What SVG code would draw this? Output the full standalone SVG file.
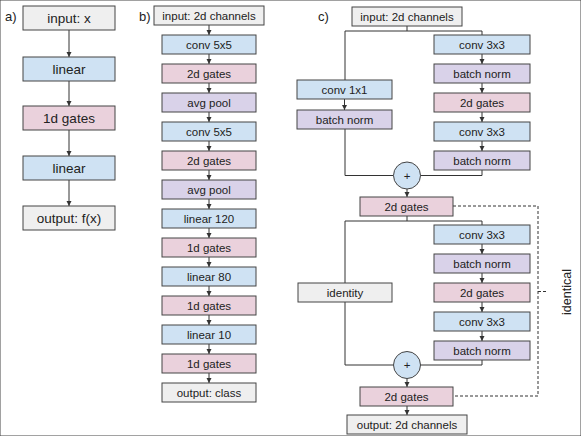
<svg xmlns="http://www.w3.org/2000/svg" width="581" height="436" viewBox="0 0 581 436">
<style>
text{font-family:"Liberation Sans",Arial,sans-serif;fill:#222;text-anchor:middle;dominant-baseline:central}
.s{font-size:11.5px}.l{font-size:13.5px}.lab{font-size:13px;text-anchor:start}
rect{stroke:#444;stroke-width:1}
.g{fill:#efefef}.b{fill:#cfe2f3}.p{fill:#ead1dc}.v{fill:#d9d2e9}
.c line,.c path{stroke:#333;stroke-width:1;fill:none}
.a{marker-end:url(#ah)}
.d{stroke-dasharray:3 2}
</style>
<defs>
<marker id="ah" markerWidth="6" markerHeight="6" refX="5" refY="3" orient="auto" markerUnits="userSpaceOnUse">
<path d="M0,0.5 L5,3 L0,5.5 z" fill="#333"/>
</marker>
</defs>
<rect width="581" height="436" fill="#fff" stroke="none"/>
<text class="lab" x="5" y="16">a)</text>
<text class="lab" x="139" y="16">b)</text>
<text class="lab" x="318" y="16">c)</text>

<g class="c">
<!-- panel a -->
<line class="a" x1="69" y1="30" x2="69" y2="57"/>
<line class="a" x1="69" y1="81" x2="69" y2="106"/>
<line class="a" x1="69" y1="130" x2="69" y2="156"/>
<line class="a" x1="69" y1="180" x2="69" y2="206"/>
<!-- panel b -->
<line class="a" x1="209" y1="25" x2="209" y2="35"/>
<line class="a" x1="209" y1="54" x2="209" y2="64"/>
<line class="a" x1="209" y1="83" x2="209" y2="93"/>
<line class="a" x1="209" y1="112" x2="209" y2="122"/>
<line class="a" x1="209" y1="141" x2="209" y2="151"/>
<line class="a" x1="209" y1="170" x2="209" y2="180"/>
<line class="a" x1="209" y1="199" x2="209" y2="209"/>
<line class="a" x1="209" y1="228" x2="209" y2="238"/>
<line class="a" x1="209" y1="257" x2="209" y2="267"/>
<line class="a" x1="209" y1="286" x2="209" y2="296"/>
<line class="a" x1="209" y1="315" x2="209" y2="325"/>
<line class="a" x1="209" y1="344" x2="209" y2="354"/>
<line class="a" x1="209" y1="373" x2="209" y2="383"/>
<!-- panel c top block -->
<path d="M407,26 V31 H345 V80"/>
<path d="M407,31 H482 V35"/>
<line class="a" x1="344.5" y1="99" x2="344.5" y2="110"/>
<line class="a" x1="482" y1="54" x2="482" y2="64"/>
<line class="a" x1="482" y1="83" x2="482" y2="93"/>
<line class="a" x1="482" y1="112" x2="482" y2="122"/>
<line class="a" x1="482" y1="141" x2="482" y2="151"/>
<path d="M345,129 V175.5 H393.5"/>
<path d="M482,170 V175.5 H420"/>
<line class="a" x1="407" y1="189" x2="407" y2="197"/>
<!-- panel c bottom block -->
<path d="M407,216 V221 H345 V283"/>
<path d="M407,221 H482 V225"/>
<line class="a" x1="482" y1="244" x2="482" y2="254"/>
<line class="a" x1="482" y1="273" x2="482" y2="283"/>
<line class="a" x1="482" y1="302" x2="482" y2="312"/>
<line class="a" x1="482" y1="331" x2="482" y2="341"/>
<path d="M345,302 V365 H393.5"/>
<path d="M482,360 V365 H420"/>
<line class="a" x1="407" y1="378.5" x2="407" y2="387"/>
<line class="a" x1="407" y1="406" x2="407" y2="415"/>
<!-- identical bracket -->
<path class="d" d="M453,206 H538 V396 H453"/>
<line class="d" x1="538" y1="291.5" x2="548" y2="291.5"/>
</g>

<!-- panel a nodes -->
<g id="a-input"><rect class="g" x="23" y="6" width="92" height="24"/><text class="l" x="69" y="18">input: x</text></g>
<g id="a-linear1"><rect class="b" x="23" y="57" width="92" height="24"/><text class="l" x="69" y="69">linear</text></g>
<g id="a-gates"><rect class="p" x="23" y="106" width="92" height="24"/><text class="l" x="69" y="118">1d gates</text></g>
<g id="a-linear2"><rect class="b" x="23" y="156" width="92" height="24"/><text class="l" x="69" y="168">linear</text></g>
<g id="a-output"><rect class="g" x="23" y="206" width="92" height="24"/><text class="l" x="69" y="218">output: f(x)</text></g>

<!-- panel b nodes -->
<g id="b-input"><rect class="g" x="154" y="6" width="110" height="19"/><text class="s" x="209" y="15.5">input: 2d channels</text></g>
<g id="b-conv1"><rect class="b" x="162" y="35" width="94" height="19"/><text class="s" x="209" y="44.5">conv 5x5</text></g>
<g id="b-gates1"><rect class="p" x="162" y="64" width="94" height="19"/><text class="s" x="209" y="73.5">2d gates</text></g>
<g id="b-pool1"><rect class="v" x="162" y="93" width="94" height="19"/><text class="s" x="209" y="102.5">avg pool</text></g>
<g id="b-conv2"><rect class="b" x="162" y="122" width="94" height="19"/><text class="s" x="209" y="131.5">conv 5x5</text></g>
<g id="b-gates2"><rect class="p" x="162" y="151" width="94" height="19"/><text class="s" x="209" y="160.5">2d gates</text></g>
<g id="b-pool2"><rect class="v" x="162" y="180" width="94" height="19"/><text class="s" x="209" y="189.5">avg pool</text></g>
<g id="b-lin120"><rect class="b" x="162" y="209" width="94" height="19"/><text class="s" x="209" y="218.5">linear 120</text></g>
<g id="b-gates3"><rect class="p" x="162" y="238" width="94" height="19"/><text class="s" x="209" y="247.5">1d gates</text></g>
<g id="b-lin80"><rect class="b" x="162" y="267" width="94" height="19"/><text class="s" x="209" y="276.5">linear 80</text></g>
<g id="b-gates4"><rect class="p" x="162" y="296" width="94" height="19"/><text class="s" x="209" y="305.5">1d gates</text></g>
<g id="b-lin10"><rect class="b" x="162" y="325" width="94" height="19"/><text class="s" x="209" y="334.5">linear 10</text></g>
<g id="b-gates5"><rect class="p" x="162" y="354" width="94" height="19"/><text class="s" x="209" y="363.5">1d gates</text></g>
<g id="b-output"><rect class="g" x="162" y="383" width="94" height="19"/><text class="s" x="209" y="392.5">output: class</text></g>

<!-- panel c nodes -->
<g id="c-input"><rect class="g" x="352" y="7" width="110" height="19"/><text class="s" x="407" y="16.5">input: 2d channels</text></g>
<g id="c-conv1x1"><rect class="b" x="297" y="80" width="95" height="19"/><text class="s" x="344.5" y="89.5">conv 1x1</text></g>
<g id="c-bn0"><rect class="v" x="297" y="110" width="95" height="19"/><text class="s" x="344.5" y="119.5">batch norm</text></g>
<g id="c-conv3a"><rect class="b" x="434" y="35" width="96" height="19"/><text class="s" x="482" y="44.5">conv 3x3</text></g>
<g id="c-bn1"><rect class="v" x="434" y="64" width="96" height="19"/><text class="s" x="482" y="73.5">batch norm</text></g>
<g id="c-gates1"><rect class="p" x="434" y="93" width="96" height="19"/><text class="s" x="482" y="102.5">2d gates</text></g>
<g id="c-conv3b"><rect class="b" x="434" y="122" width="96" height="19"/><text class="s" x="482" y="131.5">conv 3x3</text></g>
<g id="c-bn2"><rect class="v" x="434" y="151" width="96" height="19"/><text class="s" x="482" y="160.5">batch norm</text></g>
<g id="c-add1"><circle cx="407" cy="175.5" r="13.5" fill="#cfe2f3" stroke="#444"/><text class="s" x="407" y="175.5">+</text></g>
<g id="c-gates-mid"><rect class="p" x="360" y="197" width="93" height="19"/><text class="s" x="406.5" y="206.5">2d gates</text></g>
<g id="c-identity"><rect class="g" x="298" y="283" width="94" height="19"/><text class="s" x="345" y="292.5">identity</text></g>
<g id="c-conv3c"><rect class="b" x="434" y="225" width="96" height="19"/><text class="s" x="482" y="234.5">conv 3x3</text></g>
<g id="c-bn3"><rect class="v" x="434" y="254" width="96" height="19"/><text class="s" x="482" y="263.5">batch norm</text></g>
<g id="c-gates2"><rect class="p" x="434" y="283" width="96" height="19"/><text class="s" x="482" y="292.5">2d gates</text></g>
<g id="c-conv3d"><rect class="b" x="434" y="312" width="96" height="19"/><text class="s" x="482" y="321.5">conv 3x3</text></g>
<g id="c-bn4"><rect class="v" x="434" y="341" width="96" height="19"/><text class="s" x="482" y="350.5">batch norm</text></g>
<g id="c-add2"><circle cx="407" cy="365" r="13.5" fill="#cfe2f3" stroke="#444"/><text class="s" x="407" y="365">+</text></g>
<g id="c-gates-out"><rect class="p" x="360" y="387" width="93" height="19"/><text class="s" x="406.5" y="396.5">2d gates</text></g>
<g id="c-output"><rect class="g" x="347" y="415" width="120" height="19"/><text class="s" x="407" y="424.5">output: 2d channels</text></g>
<g id="c-identical"><text class="s" x="567" y="292" transform="rotate(-90 567 292)" style="font-size:12.5px">identical</text></g>
</svg>
